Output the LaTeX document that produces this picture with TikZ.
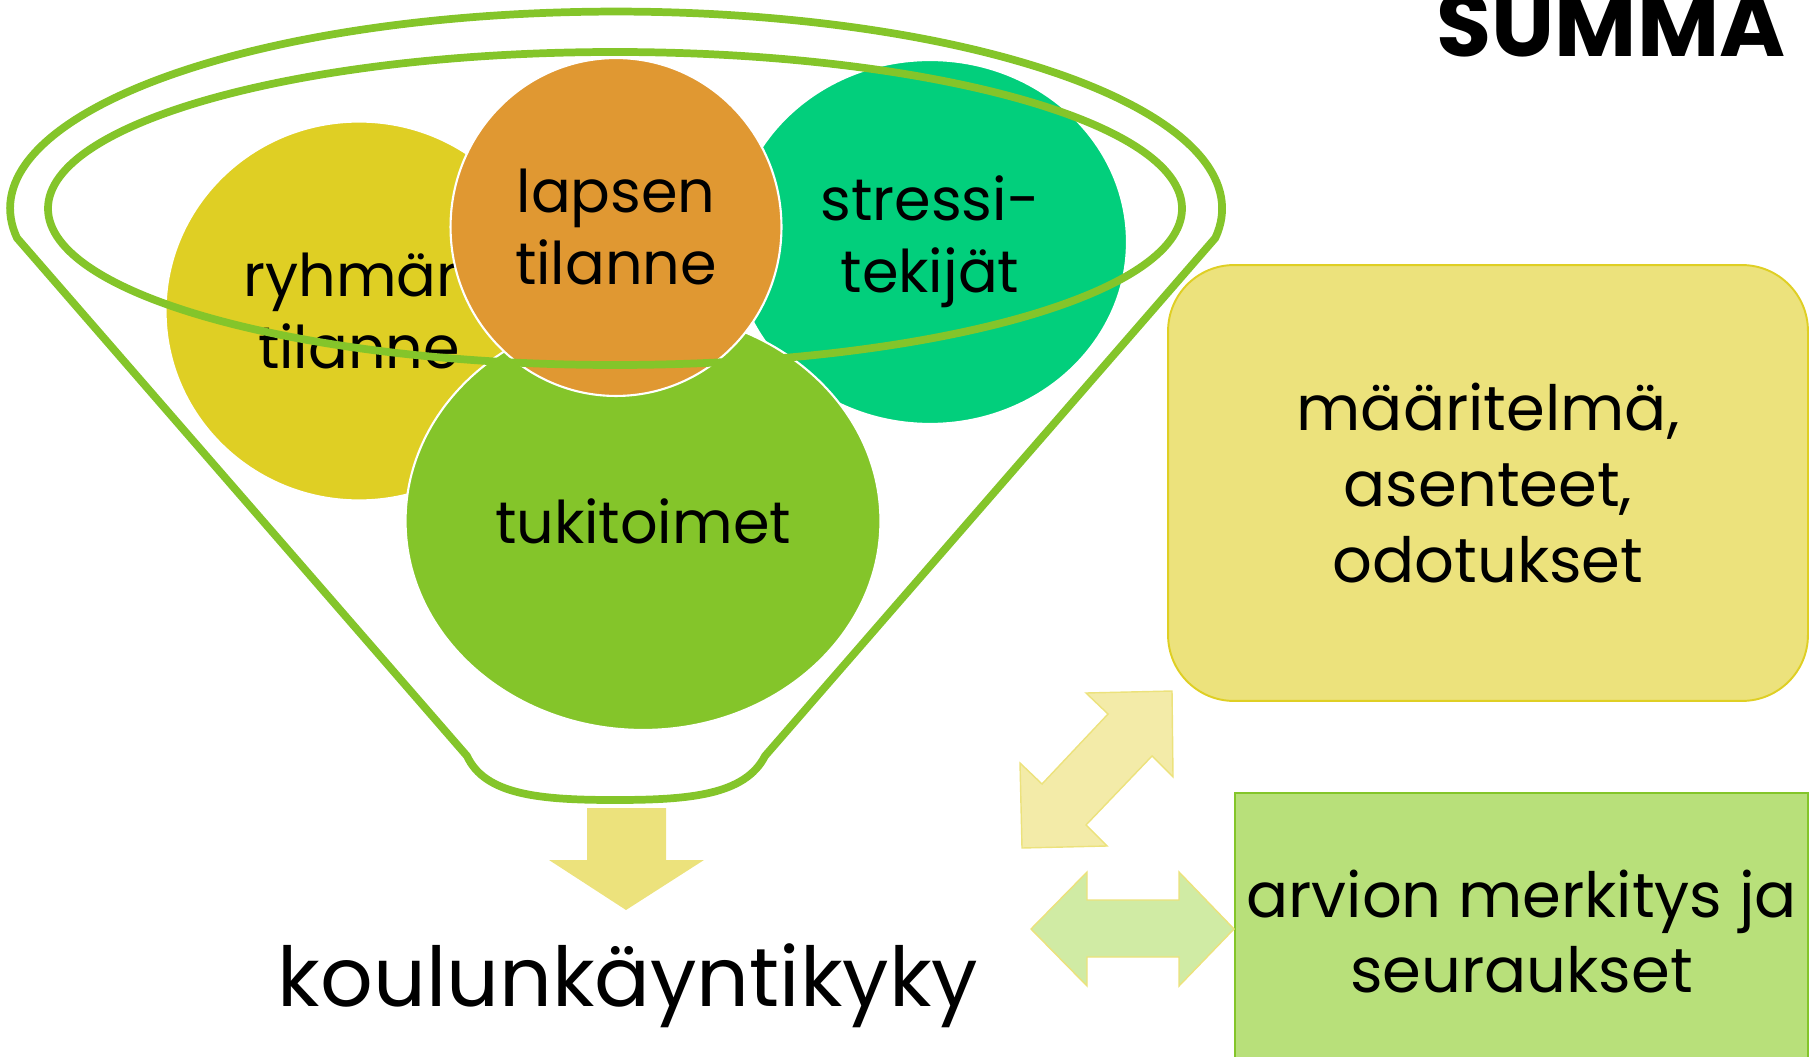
\documentclass[tikz,border=0pt]{standalone}
\usepackage{fontspec}
\setmainfont{Poppins}
\usepackage{tikz}
\usetikzlibrary{shapes.geometric}
\definecolor{myyellow}{RGB}{223,207,36}
\definecolor{myorange}{RGB}{224,152,50}
\definecolor{myteal}{RGB}{2,207,124}
\definecolor{mygreen}{RGB}{132,197,42}
\definecolor{mysand}{RGB}{236,226,124}
\definecolor{mylime}{RGB}{184,224,122}
\definecolor{mypale}{RGB}{243,235,168}
\definecolor{mymint}{RGB}{208,235,164}

\begin{document}
\begin{tikzpicture}[x=0.02cm,y=-0.02cm,
	blob/.style={
		ellipse,
		draw=white,
		line width=1.2pt,
		inner sep=0pt,
		align=center,
		font={\fontsize{33.5}{41}\selectfont}},
	rim/.style={draw=mygreen,line width=4.4pt,line join=round},
	box/.style={
		line width=1.1pt,
		align=center,
		inner sep=0pt,
		font={\fontsize{35.5}{43.2}\selectfont}},
	blockarrow/.style={line width=0.8pt,line join=miter},
	]
	\useasboundingbox (0,0) rectangle (1817,1057);
	\node[blob, fill=myyellow, minimum width=7.74cm, minimum height=7.58cm] (RT) at (359,311) {ryhmän\\tilanne};
	\node[blob, fill=myteal, minimum width=7.88cm, minimum height=7.28cm] (ST) at (930,242) {stressi-\\tekijät};
	\node[blob, fill=mygreen, minimum width=9.5cm, minimum height=8.36cm] (TT) at (643,521) {tukitoimet};
	\node[blob, fill=myorange, minimum width=6.62cm, minimum height=6.76cm] (LT) at (616,227) {lapsen\\tilanne};
	
	% suppilo
	\draw[rim] (615,208.5) ellipse [x radius=567, y radius=156.5];
	\draw[rim] (17,238) arc[start angle=171.4, end angle=368.6, x radius=606, y radius=197]
		-- (765,756) .. controls (745,795) and (690,800) .. (615,800)
		.. controls (540,800) and (485,795) .. (467,756) -- cycle;
	
	\fill[mysand] (587,808) -- (666,808) -- (666,860) -- (704,860) -- (626,910)
		-- (549,860) -- (587,860) -- cycle;
	\node[font={\fontsize{47}{56}\selectfont}, inner sep=0pt] (KK) at (628,986) {koulunkäyntikyky};
	
	\node[box, fill=mysand, draw=myyellow, rounded corners=1.32cm,
		minimum width=12.8cm, minimum height=8.72cm] (DEF) at (1488,483) {määritelmä,\\asenteet,\\odotukset};
	\node[box, fill=mylime, draw=mygreen, minimum width=11.46cm, minimum height=5.54cm] (ARV) at (1521.5,931.5) {arvion merkitys ja\\seuraukset};
	
	\draw[blockarrow, fill=mypale, draw=mysand] (1086,693) -- (1172,691) -- (1173,777) -- (1152,756)
		-- (1086,825) -- (1107,846) -- (1022,848) -- (1020,763) -- (1042,784) -- (1108,714) -- cycle;
	\draw[blockarrow, fill=mymint, draw=mysand] (1031,929) -- (1087,872) -- (1087,900) -- (1179,900)
		-- (1179,872) -- (1234,929) -- (1179,986) -- (1179,957) -- (1087,957) -- (1087,986) -- cycle;
	
	\node[font={\fontsize{51}{60}\selectfont\bfseries}, anchor=base, inner sep=0pt] (SUM) at (1611,57) {SUMMA};
\end{tikzpicture}
\end{document}
